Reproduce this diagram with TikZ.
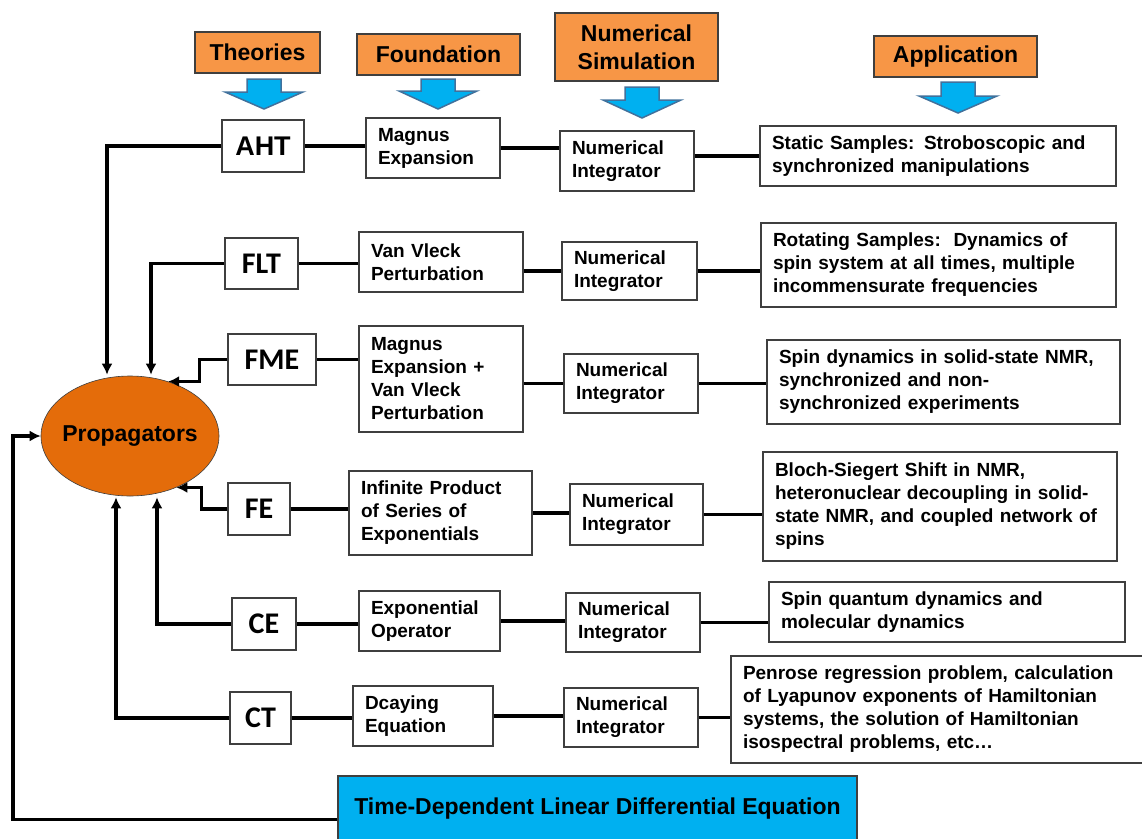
\documentclass[tikz,border=0pt]{standalone}
\usepackage{fontspec}
\setmainfont{Liberation Sans}
\newfontfamily\carl{Carlito}
\usetikzlibrary{arrows.meta,shapes.geometric}
\definecolor{hdr}{HTML}{F79646}
\definecolor{prop}{HTML}{E46C0A}
\definecolor{sky}{HTML}{00B0F0}
\definecolor{skyb}{HTML}{41719C}
\definecolor{bord}{HTML}{3F3F3F}
\newcommand\blockarr[4]{%
  \draw[barrow] ({#1-17},#2) -- ({#1+17},#2) -- ({#1+17},#3) -- ({#1+39},#3) -- (#1,#4) -- ({#1-39},#3) -- ({#1-17},#3) -- cycle;}
\tikzset{
  hdrbox/.style={draw=bord, line width=1.2pt, fill=hdr, inner sep=0pt, align=center,
    font=\fontsize{23}{28}\selectfont\bfseries},
  barrow/.style={draw=skyb, line width=1.5pt, fill=sky, line join=miter},
  txtbox/.style={draw=bord, line width=1.2pt, fill=white, align=left, inner xsep=12pt, inner ysep=0pt,
    font=\fontsize{19}{23}\selectfont\bfseries},
  thbox/.style={draw=bord, line width=1.2pt, fill=white, inner sep=0pt, align=center,
    font=\carl\fontsize{30}{32}\selectfont\bfseries},
  conn/.style={line width=3.2pt, black},
  arr/.style={line width=3.2pt, black, -{Latex[length=11pt,width=11pt]}},
}
\begin{document}
\begin{tikzpicture}[x=1pt,y=-1pt]
\useasboundingbox (0,0) rectangle (1142,838);
\clip (0,0) rectangle (1142,838);

% header boxes
\node[hdrbox, minimum width=125, minimum height=41] (th) at (257.5,52.5) {Theories};
\node[hdrbox, minimum width=163, minimum height=41] (fo) at (438.5,54.5) {Foundation};
\node[hdrbox, minimum width=163, minimum height=68] (ns) at (636.5,47) {Numerical\\Simulation};
\node[hdrbox, minimum width=163, minimum height=41] (ap) at (955.5,56.5) {Application};

% block arrows
\blockarr{264}{79}{92}{109}
\blockarr{438}{79}{91}{109}
\blockarr{642}{87}{100}{118}
\blockarr{958}{82}{96}{113}

% propagators
\node[ellipse, draw=bord, line width=0.6pt, fill=prop, minimum width=178, minimum height=120, inner sep=0pt,
  font=\fontsize{23}{28}\selectfont\bfseries] (Prop) at (130,436) {\makebox[0pt]{Propagators}};

% row 1
\node[thbox, minimum width=82, minimum height=52, font=\fontsize{27}{30}\selectfont\bfseries] (AHT) at (263,146) {AHT};
\node[txtbox, text width=110, minimum height=60] (mag) at (433,148) {Magnus\\Expansion};
\node[txtbox, text width=110, minimum height=60] (ni1) at (627,161) {Numerical\\Integrator};
\node[txtbox, text width=332, minimum height=60] (app1) at (938,156) {Static Samples: Stroboscopic and\\synchronized manipulations};

% row 2
\node[thbox, minimum width=73, minimum height=51] (FLT) at (261.5,263.5) {FLT};
\node[txtbox, text width=140, minimum height=60] (vv) at (441,262) {Van Vleck\\Perturbation};
\node[txtbox, text width=111, minimum height=58] (ni2) at (629.5,271) {Numerical\\Integrator};
\node[txtbox, text width=331, minimum height=84] (app2) at (938.5,265) {Rotating Samples:\ \ Dynamics of\\spin system at all times, multiple\\incommensurate frequencies};

% row 3
\node[thbox, minimum width=88, minimum height=51] (FME) at (272,359.5) {FME};
\node[txtbox, text width=140, minimum height=106] (mvv) at (441,379) {Magnus\\Expansion +\\Van Vleck\\Perturbation};
\node[txtbox, text width=110, minimum height=59] (ni3) at (631,383.5) {Numerical\\Integrator};
\node[txtbox, text width=329, minimum height=84] (app3) at (943.5,382) {Spin dynamics in solid-state NMR,\\synchronized and non-\\synchronized experiments};

% row 4
\node[thbox, minimum width=62, minimum height=52] (FE) at (259,509) {FE};
\node[txtbox, text width=159, minimum height=84] (inf) at (440.5,513) {Infinite Product\\of Series of\\Exponentials};
\node[txtbox, text width=109, minimum height=61] (ni4) at (636.5,514.5) {Numerical\\Integrator};
\node[txtbox, text width=330, minimum height=109] (app4) at (940,506.5) {Bloch-Siegert Shift in NMR,\\heteronuclear decoupling in solid-\\state NMR, and coupled network of\\spins};

% row 5
\node[thbox, minimum width=64, minimum height=52] (CE) at (264,624) {CE};
\node[txtbox, text width=117, minimum height=60] (ex) at (429.5,621) {Exponential\\Operator};
\node[txtbox, text width=110, minimum height=59] (ni5) at (633,622.5) {Numerical\\Integrator};
\node[txtbox, text width=332, minimum height=60] (app5) at (947,612) {Spin quantum dynamics and\\molecular dynamics};

% row 6
\node[thbox, minimum width=61, minimum height=52] (CT) at (260.5,718) {CT};
\node[txtbox, text width=116, minimum height=60] (dc) at (423,716) {Dcaying\\Equation};
\node[txtbox, text width=110, minimum height=59] (ni6) at (631,717.5) {Numerical\\Integrator};
\node[txtbox, text width=395, minimum height=107] (app6) at (940.5,709.5) {Penrose regression problem, calculation\\of Lyapunov exponents of Hamiltonian\\systems, the solution of Hamiltonian\\isospectral problems, etc…};

% bottom equation
\node[draw=bord, line width=1.2pt, fill=sky, minimum width=519, minimum height=65, inner sep=0pt,
  font=\fontsize{23}{28}\selectfont\bfseries] (TDL) at (597.5,808.5) {Time-Dependent Linear Differential Equation};

% horizontal connectors
\draw[conn] (AHT.east) -- (AHT.east -| mag.west);
\draw[conn] (mag.east) -- (mag.east -| ni1.west);
\draw[conn] (app1.west -| ni1.east) -- (app1.west);
\draw[conn] (FLT.east) -- (FLT.east -| vv.west);
\draw[conn] (ni2.west -| vv.east) -- (ni2.west);
\draw[conn] (ni2.east) -- (ni2.east -| app2.west);
\draw[conn] (FME.east) -- (FME.east -| mvv.west);
\draw[conn] (ni3.west -| mvv.east) -- (ni3.west);
\draw[conn] (ni3.east) -- (ni3.east -| app3.west);
\draw[conn] (FE.east) -- (FE.east -| inf.west);
\draw[conn] (inf.east) -- (inf.east -| ni4.west);
\draw[conn] (ni4.east) -- (ni4.east -| app4.west);
\draw[conn] (CE.east) -- (CE.east -| ex.west);
\draw[conn] (ex.east) -- (ex.east -| ni5.west);
\draw[conn] (ni5.east) -- (ni5.east -| app5.west);
\draw[conn] (CT.east) -- (CT.east -| dc.west);
\draw[conn] (dc.east) -- (dc.east -| ni6.west);
\draw[conn] (ni6.east) -- (ni6.east -| app6.west);

% connectors into propagators
\draw[arr] (AHT.west) -| ([xshift=-23pt,yshift=1pt]Prop.north);
\draw[arr] (FLT.west) -| ([xshift=21pt,yshift=1pt]Prop.north);
\draw[arr] (FME.west) -- ++(-28,0) |- (Prop.55);
\draw[arr] (FE.west) -- ++(-26,0) |- (Prop.-48);
\draw[arr] (CE.west) -| ([xshift=27pt,yshift=-1pt]Prop.south);
\draw[arr] (CT.west) -| ([xshift=-14pt,yshift=-1pt]Prop.south);
\coordinate (bl) at (13,436);
\draw[arr] ([yshift=-11pt]TDL.west) -| (bl) -- (Prop.west);
\end{tikzpicture}
\end{document}
